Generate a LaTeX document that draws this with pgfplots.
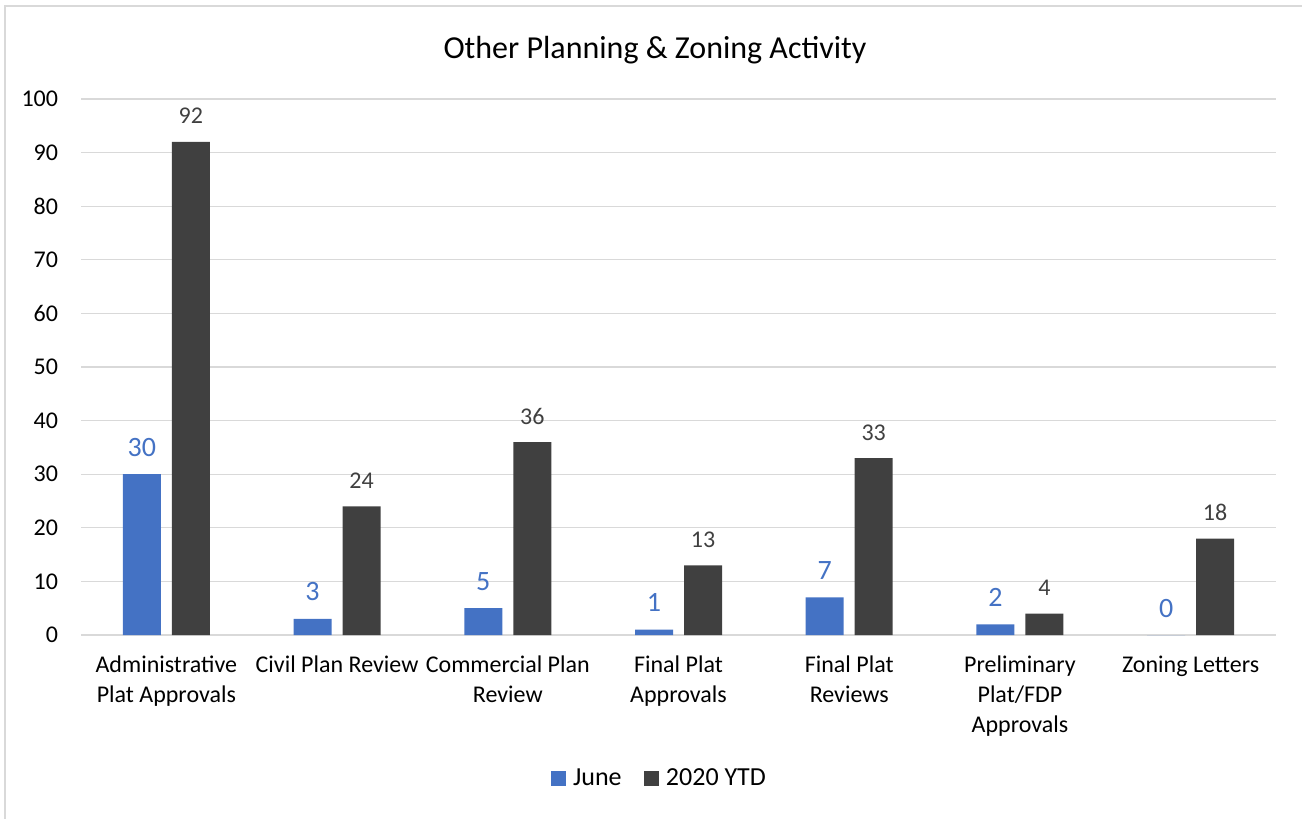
\documentclass[border=0pt]{standalone}
\usepackage{fontspec}
\setmainfont{Carlito}
\usepackage{pgfplots}
\pgfplotsset{compat=1.18}
\definecolor{juneblue}{HTML}{4472C4}
\definecolor{ytdgray}{HTML}{404040}
\definecolor{gridgray}{HTML}{D9D9D9}
\begin{document}
\begin{tikzpicture}
\useasboundingbox (-60.75pt,-137.25pt) rectangle (915.75pt,476.25pt);
\draw[gridgray, line width=1.2pt] (-57pt,-140pt) -- (-57pt,471.75pt) -- (920pt,471.75pt);
\node[anchor=base, font=\fontsize{24}{29}\selectfont] at (430.5pt,432pt) {Other Planning \& Zoning Activity};
\begin{axis}[
  at={(0pt,0pt)}, anchor=south west,
  scale only axis,
  width=896.25pt, height=402pt,
  ybar=8.25pt, bar width=28.5pt,
  xmin=-0.5, xmax=6.5,
  ymin=0, ymax=100,
  ytick={0,10,...,100},
  xtick={0,...,6},
  xticklabels={Administrative\\Plat Approvals, Civil Plan Review, Commercial Plan\\Review, Final Plat\\Approvals, Final Plat\\Reviews, Preliminary\\Plat/FDP\\Approvals, Zoning Letters},
  axis line style={draw=none},
  axis x line*=bottom,
  axis y line*=left,
  major tick length=0pt,
  ymajorgrids, grid style={gridgray, line width=1pt},
  extra y ticks={0}, extra y tick labels={},
  extra y tick style={grid style={gridgray, line width=1.2pt}},
  /pgf/number format/assume math mode=true,
  yticklabel style={font=\fontsize{18}{21}\selectfont, inner sep=0pt, xshift=-17pt, text=black},
  xticklabel style={font=\fontsize{18}{22.5}\selectfont, align=center, inner sep=0pt, yshift=-15.5pt, text=black},
  legend style={at={(0.4845,-0.267)}, anchor=center, draw=none, legend columns=2,
    font=\fontsize{19.5}{23}\selectfont,
    /tikz/every odd column/.append style={column sep=3pt},
    /tikz/every even column/.append style={column sep=15pt}},
  legend image code/.code={\fill[#1] (0pt,-5.6pt) rectangle (11.25pt,5.6pt);},
  nodes near coords,
  every node near coord/.append style={inner sep=0pt, yshift=13.5pt, anchor=base},
  clip=false,
]
\addplot[fill=juneblue, draw=none,
  every node near coord/.append style={text=juneblue, font=\fontsize{21}{24}\selectfont}]
  coordinates {(0,30) (1,3) (2,5) (3,1) (4,7) (5,2) (6,0)};
\addplot[fill=ytdgray, draw=none,
  every node near coord/.append style={text=ytdgray, font=\fontsize{18}{21}\selectfont}]
  coordinates {(0,92) (1,24) (2,36) (3,13) (4,33) (5,4) (6,18)};
\legend{June, 2020 YTD}
\end{axis}
\end{tikzpicture}
\end{document}
